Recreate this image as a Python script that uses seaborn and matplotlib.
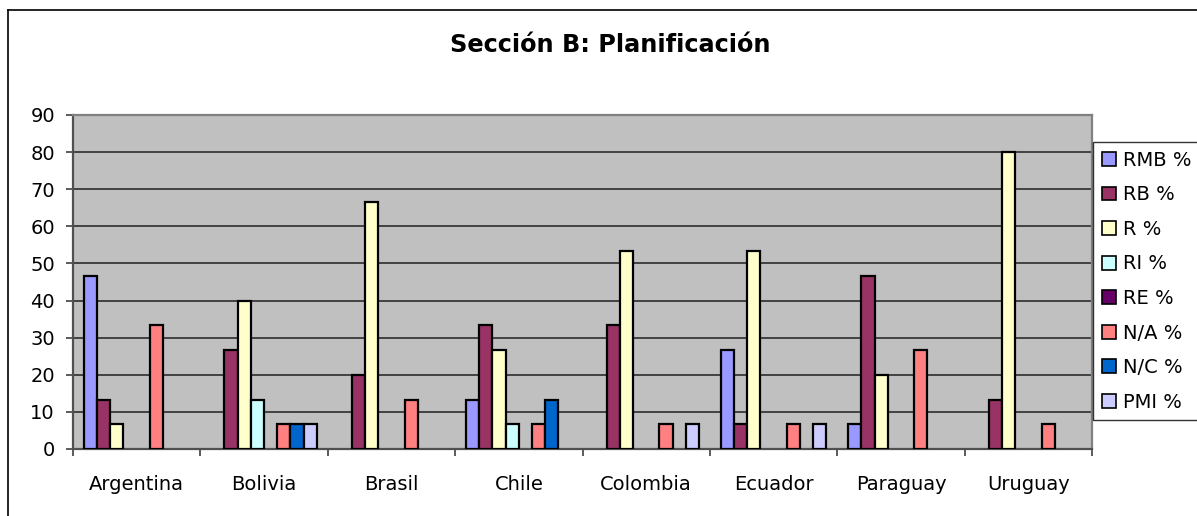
import matplotlib
import pandas as pd
import seaborn as sns
from matplotlib import pyplot as plt
from matplotlib.lines import Line2D
import matplotlib.patches as mpatches

matplotlib.rcParams["font.family"] = "DejaVu Sans"

countries = ["Argentina", "Bolivia", "Brasil", "Chile", "Colombia", "Ecuador", "Paraguay", "Uruguay"]
series = ["RMB %", "RB %", "R %", "RI %", "RE %", "N/A %", "N/C %", "PMI %"]
colors = ["#9999FF", "#993366", "#FFFFCC", "#CCFFFF", "#660066", "#FF8080", "#0066CC", "#CCCCFF"]

rmb = [46.67, 0, 0, 13.33, 0, 26.67, 6.67, 0]
rb = [13.33, 26.67, 20, 33.33, 33.33, 6.67, 46.67, 13.33]
r = [6.67, 40, 66.67, 26.67, 53.33, 53.33, 20, 80]
ri = [0, 13.33, 0, 6.67, 0, 0, 0, 0]
re = [0, 0, 0, 0, 0, 0, 0, 0]
na = [33.33, 6.67, 13.33, 6.67, 6.67, 6.67, 26.67, 6.67]
nc = [0, 6.67, 0, 13.33, 0, 0, 0, 0]
pmi = [0, 6.67, 0, 0, 6.67, 6.67, 0, 0]

values = [rmb, rb, r, ri, re, na, nc, pmi]
rows = []
for name, vals in zip(series, values):
    for c, v in zip(countries, vals):
        rows.append({"pais": c, "serie": name, "valor": v})
df = pd.DataFrame(rows)

fig = plt.figure(figsize=(11.97, 5.16), dpi=100)
ax = fig.add_axes([73 / 1197, 1 - 449 / 516, (1092 - 73) / 1197, (449 - 115) / 516])
ax.set_facecolor("#C0C0C0")

sns.barplot(
    data=df, x="pais", y="valor", hue="serie", order=countries, hue_order=series,
    palette=colors, width=0.83, edgecolor="black", linewidth=1.6, saturation=1,
    errorbar=None, legend=False, ax=ax, zorder=3,
)
# Excel no dibuja las barras en cero
for p in ax.patches:
    if p.get_height() == 0:
        p.set_visible(False)

ax.set_ylim(0, 90)
ax.set_xlim(-0.5, 7.5)
ax.set_yticks(range(0, 91, 10))
ax.yaxis.grid(True, color="#202020", linewidth=1.1, zorder=0)
ax.set_axisbelow(True)
ax.set_xlabel("")
ax.set_ylabel("")

ax.set_xticks(range(8))
ax.set_xticklabels(countries)
ax.set_xticks([i + 0.5 for i in range(-1, 8)], minor=True)
ax.tick_params(axis="x", which="major", length=0, pad=19, labelsize=14)
ax.tick_params(axis="x", which="minor", length=5, width=1.2, color="#404040", direction="out")
ax.tick_params(axis="y", length=5, width=1.2, color="#404040", pad=8, labelsize=14)

for side in ["left", "bottom"]:
    ax.spines[side].set_color("#505050")
    ax.spines[side].set_linewidth(1.6)
for side in ["top", "right"]:
    ax.spines[side].set_color("#808080")
    ax.spines[side].set_linewidth(1.6)

fig.text(610 / 1197, 1 - 45 / 516, "Sección B: Planificación", ha="center", va="center",
         fontsize=17.3, fontweight="bold")

handles = [mpatches.Patch(facecolor=c, edgecolor="black", linewidth=1.2, label=s)
           for c, s in zip(colors, series)]
leg = fig.legend(
    handles=handles, loc="upper left", bbox_to_anchor=(1093 / 1197, 1 - 142 / 516),
    bbox_transform=fig.transFigure, frameon=True, fancybox=False, fontsize=14,
    handlelength=0.72, handleheight=0.72, handletextpad=0.35, labelspacing=0.8,
    borderpad=0.45, borderaxespad=0,
)
leg.get_frame().set_edgecolor("black")
leg.get_frame().set_linewidth(1.0)

fig.add_artist(Line2D([8 / 1197, 8 / 1197], [0, 1 - 10 / 516], transform=fig.transFigure,
                      color="black", linewidth=1.2))
fig.add_artist(Line2D([8 / 1197, 1], [1 - 10 / 516, 1 - 10 / 516], transform=fig.transFigure,
                      color="black", linewidth=1.2))

fig.savefig("out.png", dpi=100)
